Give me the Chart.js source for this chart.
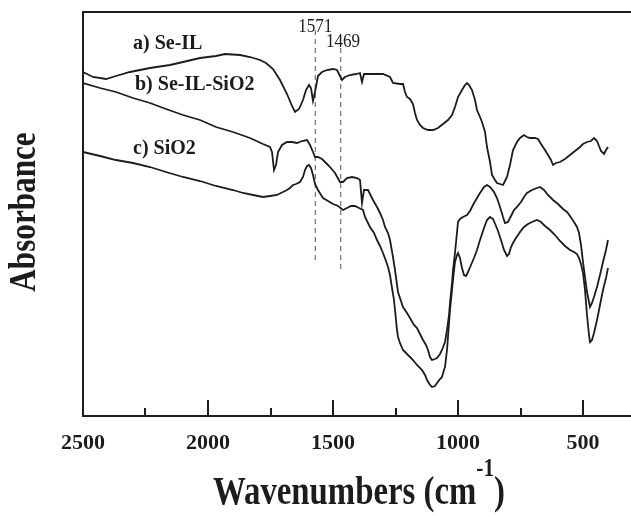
<!DOCTYPE html>
<html>
<head>
<meta charset="utf-8">
<title>FTIR Se-IL</title>
<script src="https://cdn.jsdelivr.net/npm/chart.js@4.4.1/dist/chart.umd.min.js"></script>
<style>
html, body { margin: 0; padding: 0; background: #fff; }
#grafico { display: block; }
</style>
</head>
<body>
<canvas id="grafico" width="631" height="516"></canvas>
<script>
// Espectros FTIR (numero de onda en cm-1, absorbancia en unidades arbitrarias)

// a) Se-IL
const wnA = [2500,2460,2408,2368,2312,2232,2152,2100,2032,1968,
	1932,1872,1832,1792,1768,1740,1712,1684,1664,1652,
	1636,1620,1608,1596,1588,1580,1572,1560,1544,1524,
	1500,1484,1472,1464,1452,1432,1408,1392,1384,1376,
	1352,1300,1272,1260,1232,1220,1212,1204,1192,1180,
	1172,1164,1152,1140,1120,1100,1080,1060,1040,1024,
	1012,1000,984,972,964,956,944,932,924,912,
	904,892,884,872,864,852,844,832,820,812,
	804,792,780,764,752,736,724,712,692,680,
	668,652,640,628,620,608,592,572,552,532,
	512,500,484,468,456,444,436,428,416,408,
	400];
const absA = [344,339,337,340,344,348,351,354,358,360,
	362,361,359,356,353,347,336,322,310,304,
	307,316,326,331,328,315,324,340,344,346,
	347,346,340,336,339,341,342,343,334,342,
	342,342,339,333,332,332,324,319,317,312,
	303,296,291,288,286,286,288,292,296,301,
	309,319,326,331,333,331,326,316,306,299,
	294,284,269,254,241,236,233,232,231,235,
	239,251,266,274,278,281,279,278,278,277,
	272,266,261,256,251,253,254,257,261,265,
	269,272,274,275,278,275,270,265,262,266,
	269];

// b) Se-IL-SiO2
const wnB = [2500,2432,2368,2300,2232,2168,2100,2032,1968,1900,
	1832,1780,1752,1744,1736,1728,1720,1704,1684,1664,
	1644,1624,1604,1592,1580,1572,1560,1544,1528,1512,
	1492,1472,1460,1444,1424,1404,1392,1384,1376,1360,
	1340,1324,1312,1300,1292,1280,1272,1260,1252,1240,
	1220,1204,1192,1176,1164,1152,1140,1128,1120,1112,
	1104,1092,1084,1072,1064,1052,1044,1036,1032,1024,
	1020,1012,1000,992,980,964,952,940,924,912,
	896,884,872,856,844,832,820,812,800,788,
	776,764,748,736,724,704,684,672,656,640,
	620,600,580,564,552,536,524,516,508,500,
	492,484,472,464,456,444,432,420,408,400];
const absB = [333,328,324,318,313,307,301,296,289,284,
	278,272,269,264,246,251,264,271,274,274,
	273,275,276,271,264,259,259,257,253,249,
	243,234,234,238,239,238,236,213,226,226,
	216,209,203,196,189,183,176,159,146,124,
	109,103,98,91,88,82,76,71,66,59,
	56,57,58,62,66,74,86,101,113,133,
	146,163,194,197,199,201,205,211,218,223,
	229,231,229,224,218,209,199,193,194,200,
	206,209,214,219,223,226,228,229,226,221,
	216,212,207,204,200,194,189,183,171,154,
	139,124,109,113,119,129,141,154,166,176];

// c) SiO2
const wnC = [2500,2432,2368,2300,2232,2168,2100,2032,1968,1900,
	1860,1820,1780,1752,1724,1700,1684,1672,1660,1648,
	1632,1620,1612,1604,1596,1588,1580,1572,1560,1540,
	1520,1500,1480,1460,1444,1428,1412,1396,1380,1372,
	1360,1352,1336,1324,1312,1300,1288,1280,1272,1264,
	1256,1252,1244,1240,1232,1220,1200,1180,1164,1144,
	1132,1124,1112,1104,1092,1084,1072,1064,1056,1052,
	1044,1040,1032,1024,1020,1012,1004,1000,992,984,
	976,968,960,948,936,924,912,896,884,872,
	860,848,840,828,816,804,796,788,780,768,
	752,736,720,704,684,668,652,632,612,592,
	572,552,536,524,516,508,500,492,484,476,
	472,464,456,444,432,420,408,400];
const absC = [264,260,256,253,249,244,239,235,230,226,
	223,221,219,220,221,224,226,228,231,232,
	234,239,246,250,251,248,241,232,226,218,
	215,212,210,206,208,210,210,208,206,199,
	193,189,183,176,170,163,155,149,141,128,
	116,106,86,79,73,66,61,56,51,46,
	41,36,31,29,30,33,37,39,46,49,
	66,79,106,126,136,154,161,163,158,148,
	141,140,144,151,158,166,176,188,196,199,
	197,190,185,176,166,160,162,169,173,178,
	184,189,192,194,196,194,190,186,181,175,
	170,166,164,162,158,152,143,126,101,81,
	74,76,83,96,111,126,138,148];

// Lineas de referencia (bandas marcadas)
const bandas = [1571, 1469];
const bandaArriba = [386, 368];
const bandaAbajo = [153, 146];

// Ejes
const xTicks = [2500, 2000, 1500, 1000, 500];
const xMinorTicks = [2250, 1750, 1250, 750];
const xMin = 308, xMax = 2500;
const yMin = 0, yMax = 404;

const serif = '"Liberation Serif", "Times New Roman", serif';
const tinta = '#1c1c1c';

function pares(xs, ys) {
	return xs.map((v, i) => ({ x: v, y: ys[i] }));
}

// Textos sobre la grafica: [texto, cm-1, absorbancia de la linea base]
const etiquetas = [
	['a) Se-IL', 2300, 367.5, 'bold 20px ' + serif, 'left', 1],
	['b) Se-IL-SiO2', 2292, 326.5, 'bold 20px ' + serif, 'left', 1],
	['c) SiO2', 2300, 262.5, 'bold 20px ' + serif, 'left', 1],
	['1571', 1571, 384.5, '19px ' + serif, 'center', 0.9],
	['1469', 1460, 369.5, '19px ' + serif, 'center', 0.9]
];

function texto(ctx, str, x, y, font, align, sx, rot) {
	ctx.save();
	ctx.translate(x, y);
	if (rot) ctx.rotate(rot);
	ctx.scale(sx, 1);
	ctx.font = font;
	ctx.textAlign = align;
	ctx.textBaseline = 'alphabetic';
	ctx.fillStyle = tinta;
	ctx.fillText(str, 0, 0);
	ctx.restore();
}

const marcoPlugin = {
	id: 'marco',
	afterDraw(chart) {
		const { ctx, chartArea: ca, scales: { x, y } } = chart;
		ctx.save();
		ctx.strokeStyle = tinta;
		ctx.lineWidth = 2;
		// borde superior
		ctx.beginPath();
		ctx.moveTo(ca.left, ca.top);
		ctx.lineTo(ca.right, ca.top);
		ctx.stroke();
		// marcas hacia dentro
		xTicks.forEach(v => {
			const px = Math.round(x.getPixelForValue(v));
			ctx.beginPath();
			ctx.moveTo(px, ca.bottom);
			ctx.lineTo(px, ca.bottom - 16);
			ctx.stroke();
		});
		xMinorTicks.forEach(v => {
			const px = Math.round(x.getPixelForValue(v));
			ctx.beginPath();
			ctx.moveTo(px, ca.bottom);
			ctx.lineTo(px, ca.bottom - 8);
			ctx.stroke();
		});
		ctx.restore();

		// etiquetas de curvas y bandas
		etiquetas.forEach(e => {
			texto(ctx, e[0], x.getPixelForValue(e[1]), y.getPixelForValue(e[2]), e[3], e[4], e[5]);
		});

		// titulo eje y
		texto(ctx, 'Absorbance', 35, (ca.top + ca.bottom) / 2 - 2, 'bold 38px ' + serif, 'center', 0.82, -Math.PI / 2);

		// titulo eje x con superindice
		const sx = 0.82;
		const fMain = 'bold 40px ' + serif, fSup = 'bold 26px ' + serif;
		ctx.save();
		ctx.font = fMain;
		const w1 = ctx.measureText('Wavenumbers (cm').width;
		const w3 = ctx.measureText(')').width;
		ctx.font = fSup;
		const w2 = ctx.measureText('-1').width;
		ctx.restore();
		const total = sx * (w1 + w2 + w3);
		const cx = (ca.left + ca.right) / 2 + 2;
		const x0 = cx - total / 2;
		const base = 504;
		texto(ctx, 'Wavenumbers (cm', x0, base, fMain, 'left', sx);
		texto(ctx, '-1', x0 + sx * w1, base - 28, fSup, 'left', sx);
		texto(ctx, ')', x0 + sx * (w1 + w2), base, fMain, 'left', sx);
	}
};

const linea = (datos, extra) => Object.assign({
	data: datos,
	borderColor: tinta,
	borderWidth: 1.8,
	pointRadius: 0,
	tension: 0,
	fill: false
}, extra || {});

const datasets = [
	linea(pares(wnA, absA), { label: 'a) Se-IL' }),
	linea(pares(wnB, absB), { label: 'b) Se-IL-SiO2' }),
	linea(pares(wnC, absC), { label: 'c) SiO2' })
];
bandas.forEach((b, i) => {
	datasets.push(linea([{ x: b, y: bandaArriba[i] }, { x: b, y: bandaAbajo[i] }], {
		label: String(b),
		borderColor: '#555',
		borderWidth: 1,
		borderDash: [5, 4]
	}));
});

new Chart(document.getElementById('grafico'), {
	type: 'line',
	data: { datasets: datasets },
	options: {
		responsive: false,
		animation: false,
		devicePixelRatio: 1,
		layout: { padding: { top: 12, left: 0, right: 0, bottom: 0 } },
		plugins: {
			legend: { display: false },
			tooltip: { enabled: false }
		},
		scales: {
			x: {
				type: 'linear',
				reverse: true,
				min: xMin,
				max: xMax,
				afterBuildTicks: s => { s.ticks = xTicks.map(v => ({ value: v })); },
				afterFit: s => { s.height = 100; },
				grid: { display: false, drawTicks: false },
				border: { display: true, color: tinta, width: 2 },
				ticks: {
					autoSkip: false,
					maxRotation: 0,
					padding: 14,
					color: tinta,
					font: { family: serif, size: 22, weight: 'bold' },
					callback: v => String(v)
				}
			},
			y: {
				min: yMin,
				max: yMax,
				afterFit: s => { s.width = 83; },
				grid: { display: false, drawTicks: false },
				border: { display: true, color: tinta, width: 2 },
				ticks: { display: false }
			}
		}
	},
	plugins: [marcoPlugin]
});
</script>
</body>
</html>
